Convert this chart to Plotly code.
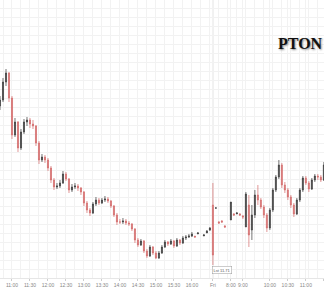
import plotly.graph_objects as go

# bar index (5-minute bars; Thu 10:40 = -1, Fri session continues)
bar_idx = list(range(-1, 66)) + list(range(67, 75)) + list(range(76, 108))

opens = [13.30, 13.36, 13.54, 13.63, 13.38, 13.01, 13.14, 12.88, 13.04, 13.14, 13.16, 13.12,
         13.10, 12.93, 12.76, 12.79, 12.76, 12.68, 12.56, 12.49, 12.50, 12.53, 12.62, 12.57,
         12.46, 12.49, 12.50, 12.48, 12.44, 12.33, 12.26, 12.23, 12.32, 12.36, 12.33, 12.36,
         12.37, 12.35, 12.30, 12.21, 12.14, 12.14, 12.15, 12.13, 12.12, 12.07, 11.96, 11.91,
         11.95, 11.85, 11.80, 11.89, 11.83, 11.78, 11.83, 11.89, 11.94, 11.92, 11.95, 11.90,
         11.96, 11.93, 11.98, 11.99, 12.00, 12.00, 12.02,
         12.00, 12.03, 12.06, 12.31, 12.28, 12.14, 12.15, 12.10,
         12.16, 12.22, 12.22, 12.22, 12.20, 12.09, 12.31, 12.06, 12.21, 12.41, 12.36, 12.29,
         12.21, 12.08, 12.26, 12.46, 12.59, 12.71, 12.51, 12.46, 12.39, 12.31, 12.22, 12.36,
         12.46, 12.58, 12.53, 12.47, 12.56, 12.60, 12.59, 12.56]
highs = [13.40, 13.58, 13.67, 13.64, 13.40, 13.18, 13.15, 13.07, 13.17, 13.19, 13.18, 13.16,
         13.11, 12.95, 12.82, 12.81, 12.78, 12.70, 12.58, 12.53, 12.56, 12.65, 12.64, 12.58,
         12.52, 12.53, 12.52, 12.49, 12.45, 12.35, 12.28, 12.34, 12.39, 12.38, 12.38, 12.40,
         12.39, 12.36, 12.31, 12.23, 12.17, 12.18, 12.17, 12.15, 12.13, 12.08, 11.98, 11.97,
         11.96, 11.87, 11.91, 11.90, 11.85, 11.85, 11.91, 11.96, 11.95, 11.97, 11.96, 11.98,
         11.97, 12.00, 12.01, 12.02, 12.04, 12.00, 12.04,
         12.02, 12.06, 12.09, 12.53, 12.29, 12.15, 12.16, 12.11,
         12.34, 12.23, 12.24, 12.23, 12.21, 12.44, 12.41, 12.31, 12.46, 12.51, 12.38, 12.31,
         12.23, 12.28, 12.48, 12.61, 12.76, 12.73, 12.54, 12.48, 12.41, 12.33, 12.38, 12.48,
         12.60, 12.60, 12.55, 12.58, 12.62, 12.62, 12.61, 12.74]
lows = [13.26, 13.34, 13.50, 13.34, 12.97, 12.99, 12.84, 12.86, 13.02, 13.10, 13.08, 13.07,
        12.90, 12.72, 12.74, 12.73, 12.65, 12.53, 12.46, 12.47, 12.48, 12.52, 12.55, 12.43,
        12.44, 12.47, 12.45, 12.41, 12.30, 12.23, 12.20, 12.22, 12.30, 12.31, 12.32, 12.34,
        12.33, 12.28, 12.19, 12.11, 12.12, 12.12, 12.11, 12.10, 12.05, 11.93, 11.89, 11.90,
        11.83, 11.78, 11.79, 11.81, 11.77, 11.77, 11.82, 11.88, 11.90, 11.91, 11.88, 11.89,
        11.91, 11.92, 11.96, 11.98, 11.99, 11.98, 12.02,
        12.00, 12.03, 12.05, 11.71, 12.27, 12.12, 12.13, 12.08,
        12.16, 12.20, 12.22, 12.20, 12.17, 12.09, 11.89, 11.96, 12.18, 12.31, 12.27, 12.18,
        12.04, 12.06, 12.24, 12.44, 12.57, 12.48, 12.43, 12.36, 12.28, 12.19, 12.21, 12.34,
        12.44, 12.51, 12.44, 12.46, 12.54, 12.56, 12.54, 12.55]
closes = [13.36, 13.54, 13.63, 13.38, 13.01, 13.14, 12.88, 13.04, 13.14, 13.16, 13.12, 13.10,
          12.93, 12.76, 12.79, 12.76, 12.68, 12.56, 12.49, 12.50, 12.53, 12.62, 12.57, 12.46,
          12.49, 12.50, 12.48, 12.44, 12.33, 12.26, 12.23, 12.32, 12.36, 12.33, 12.36, 12.37,
          12.35, 12.30, 12.21, 12.14, 12.14, 12.15, 12.13, 12.12, 12.07, 11.96, 11.91, 11.95,
          11.85, 11.80, 11.89, 11.83, 11.78, 11.83, 11.89, 11.94, 11.92, 11.95, 11.90, 11.96,
          11.93, 11.98, 11.99, 12.00, 12.02, 11.99, 12.03,
          12.01, 12.05, 12.08, 11.81, 12.28, 12.13, 12.14, 12.09,
          12.34, 12.21, 12.23, 12.21, 12.19, 12.42, 12.01, 12.21, 12.41, 12.36, 12.29, 12.21,
          12.08, 12.26, 12.46, 12.59, 12.71, 12.51, 12.46, 12.39, 12.31, 12.22, 12.36, 12.46,
          12.58, 12.53, 12.47, 12.56, 12.60, 12.59, 12.56, 12.71]

tick_idx = [3, 9, 15, 21, 27, 33, 39, 45, 51, 57, 63, 70, 76, 80, 89, 95, 101, 107]
tick_text = ["11:00", "11:30", "12:00", "12:30", "13:00", "13:30", "14:00", "14:30", "15:00",
             "15:30", "16:00", "Fri", "8:00", "9:00", "10:00", "10:30", "11:00", "11:30"]
fri_idx = 70
last_low_label = "Lst 11.71"
ticker = "PTON"

fig = go.Figure()
fig.add_trace(go.Candlestick(
    x=bar_idx, open=opens, high=highs, low=lows, close=closes,
    increasing=dict(line=dict(color="#3a3a3a", width=0.7), fillcolor="#3a3a3a"),
    decreasing=dict(line=dict(color="#d46a6a", width=0.7), fillcolor="#d46a6a"),
    whiskerwidth=0, showlegend=False, hoverinfo="skip",
))

fig.add_vline(x=fri_idx, line=dict(color="#dcdcdc", width=1), layer="below")

spike_low = min(lows)
fig.add_annotation(x=fri_idx, y=spike_low, xref="x", yref="y", text=last_low_label,
                   showarrow=False, xanchor="left", yanchor="top", xshift=-1, yshift=-1,
                   font=dict(size=4, color="#555", family="Liberation Sans"),
                   bgcolor="white", bordercolor="#999", borderwidth=0.5, borderpad=1)

fig.add_annotation(x=1, y=0.842, xref="paper", yref="paper", text="<b>" + ticker + "</b>",
                   showarrow=False, xanchor="right", yanchor="middle", xshift=1,
                   font=dict(size=16, color="#111", family="Liberation Serif",
                             shadow="1px 1px 2px #888"))

fig.update_layout(
    width=324, height=293,
    margin=dict(l=0, r=0, t=0, b=15),
    paper_bgcolor="white", plot_bgcolor="white",
    boxgap=0.5,
    xaxis=dict(range=[-1, 107.05], tickmode="array", tickvals=tick_idx, ticktext=tick_text,
               tickangle=0,
               showgrid=True, gridcolor="#f2f2f2", gridwidth=1,
               minor=dict(dtick=3, tick0=0, showgrid=True, gridcolor="#f2f2f2"),
               rangeslider=dict(visible=False), zeroline=False,
               ticks="outside", ticklen=2, tickcolor="#ccc",
               showline=True, linecolor="#e6e6e6",
               tickfont=dict(size=5, color="#888", family="Liberation Sans")),
    yaxis=dict(range=[11.58, 14.36], dtick=0.09, tick0=11.58, showgrid=True,
               gridcolor="#f2f2f2", showticklabels=False, zeroline=False, ticks=""),
)

fig.write_html("out.html")
